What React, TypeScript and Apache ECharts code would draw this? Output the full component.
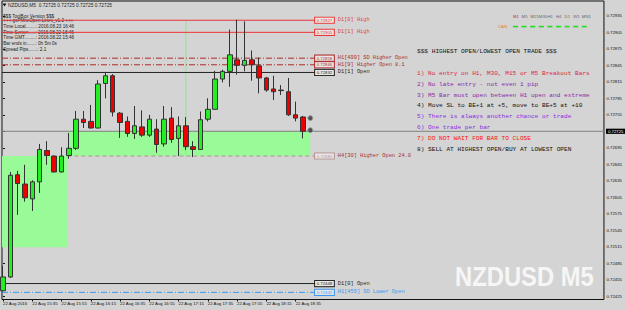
import React, { useEffect, useRef } from "react";
import * as echarts from "echarts";

// ---------- data ----------
const timeLabels = [
  "22 Aug 2016", "22 Aug 15:35", "22 Aug 15:55", "22 Aug 16:15", "22 Aug 16:35",
  "22 Aug 16:55", "22 Aug 17:15", "22 Aug 17:35", "22 Aug 17:55", "22 Aug 18:15", "22 Aug 18:35",
];
const timeLabelBars = [0, 4, 8, 12, 16, 20, 24, 28, 32, 36, 40];
const priceTicks = [
  0.72425, 0.72455, 0.72485, 0.72515, 0.72545, 0.72575, 0.72605, 0.72635, 0.72665,
  0.72695, 0.72725, 0.72755, 0.72785, 0.72815, 0.72845, 0.72875, 0.72905, 0.72935,
];

const opens = [
  0.72435, 0.72460, 0.72646, 0.72629, 0.72602, 0.72633, 0.72690, 0.72680, 0.72651, 0.72681,
  0.72694, 0.72747, 0.72743, 0.72731, 0.72812, 0.72826, 0.72758, 0.72743, 0.72721, 0.72733,
  0.72718, 0.72729, 0.72702, 0.72749, 0.72712, 0.72735, 0.72697, 0.72692, 0.72747, 0.72765,
  0.72820, 0.72834, 0.72855, 0.72845, 0.72855, 0.72844, 0.72822, 0.72802, 0.72800, 0.72797,
  0.72755, 0.72751,
];
const highs = [
  0.72480, 0.72651, 0.72653, 0.72664, 0.72636, 0.72702, 0.72707, 0.72681, 0.72696, 0.72722,
  0.72762, 0.72762, 0.72773, 0.72818, 0.72833, 0.72829, 0.72760, 0.72752, 0.72771, 0.72763,
  0.72755, 0.72747, 0.72771, 0.72769, 0.72752, 0.72751, 0.72707, 0.72761, 0.72785, 0.72835,
  0.72837, 0.72910, 0.72928, 0.72925, 0.72872, 0.72859, 0.72824, 0.72826, 0.72809, 0.72822,
  0.72779, 0.72753,
];
const lows = [
  0.72433, 0.72458, 0.72573, 0.72597, 0.72580, 0.72613, 0.72664, 0.72650, 0.72650, 0.72675,
  0.72691, 0.72731, 0.72730, 0.72730, 0.72785, 0.72752, 0.72713, 0.72715, 0.72711, 0.72715,
  0.72715, 0.72686, 0.72697, 0.72704, 0.72680, 0.72691, 0.72678, 0.72692, 0.72743, 0.72765,
  0.72814, 0.72806, 0.72828, 0.72834, 0.72817, 0.72794, 0.72797, 0.72782, 0.72791, 0.72753,
  0.72743, 0.72712,
];
const closes = [
  0.72460, 0.72645, 0.72630, 0.72604, 0.72633, 0.72692, 0.72681, 0.72651, 0.72680, 0.72694,
  0.72747, 0.72741, 0.72731, 0.72811, 0.72826, 0.72760, 0.72741, 0.72721, 0.72735, 0.72718,
  0.72747, 0.72701, 0.72747, 0.72710, 0.72735, 0.72697, 0.72692, 0.72746, 0.72765, 0.72820,
  0.72834, 0.72864, 0.72845, 0.72854, 0.72846, 0.72822, 0.72800, 0.72797, 0.72799, 0.72755,
  0.72749, 0.72725,
];
const currentPrice = 0.72725;

const levelNames = [
  "D1[0] High", "D1[1] High", "H1[499] SD Higher Open", "H1[9] Higher Open 8.1",
  "D1[1] Open", "H4[30] Higher Open 24.0", "D1[0] Open", "H1[455] SD Lower Open",
];
const levelPrices = [0.72927, 0.72905, 0.72858, 0.72846, 0.72832, 0.72680, 0.72448, 0.72432];
const levelStartBars = [null, null, null, null, null, 8.8, null, null];
const levelEndBar = 42.66;

// zones (bar range and price range)
const zoneFromBars = [null, 8.8];
const zoneToBars = [8.8, 42];
const zoneTopPrices = [0.72680, 0.72725];
const zoneBottomPrices = [0.72514, 0.72680];

const markerBar = 25;
const markerTop = 0.72927;
const markerBottom = 0.72680;

const signalBars = [42, 42];
const signalPrices = [0.72749, 0.72727];

const rulesTitle = "$$$ HIGHEST OPEN/LOWEST OPEN TRADE $$$";
const rules = [
  "1) No entry on H1, M30, M15 or M5 Breakout Bars",
  "2) No late entry - not even 1 pip",
  "3) M5 Bar must open between H1 open and extreme",
  "4) Move SL to BE+1 at +5, move to BE+5 at +10",
  "5) There is always another chance or trade",
  "6) One trade per bar",
  "7) DO NOT WAIT FOR BAR TO CLOSE",
  "8) SELL AT HIGHEST OPEN/BUY AT LOWEST OPEN",
];
const infoLines = [
  "$$$ ToolBox Version $$$",
  "+++ gsPMiteOpen Lines_v1.2 +++",
  "Time Local........: 2016.08.23 16:46",
  "Time Server......: 2016.08.22 18:46",
  "Time GMT.........: 2016.08.22 15:46",
  "Bar ends in.......: 0h 5m 0s",
  "Spread Pips.......: 2.1",
];
const headerText = "NZDUSD,M5  0.72725 0.72725 0.72725 0.72725";
const timeframes = ["M1", "M5", "M15", "M30", "H1", "H4", "D1", "W1", "MN1"];

// ---------- styles ----------
const BG = "#d4d4d4";
const X_MIN = -0.137;
const X_MAX = 82.14;
const Y_MIN = 0.72419;
const Y_MAX = 0.72962;

const levelStyles = [
  { line: "#ee3333", text: "#e04444", type: "solid" },
  { line: "#ee3333", text: "#e04444", type: "solid" },
  { line: "#b02a2a", text: "#b02a2a", type: [6, 2, 1, 2] },
  { line: "#b02a2a", text: "#b02a2a", type: [6, 2, 1, 2] },
  { line: "#222222", text: "#222222", type: "solid" },
  { line: "#b89090", text: "#a83030", type: [4, 3] },
  { line: "#222222", text: "#222222", type: "solid" },
  { line: "#3a96f0", text: "#3a96f0", type: [6, 2, 1, 2] },
];
const ruleColors = [
  "#dc1f4a", "#8a2aa8", "#8a2aa8", "#111111", "#8a2be2", "#8a2be2", "#ff1010", "#111111",
];

function buildOption() {
  const candleData = opens.map((o, i) => [i, o, closes[i], lows[i], highs[i]]);

  const levelSeries = levelNames.map((name, i) => {
    const st = levelStyles[i];
    const start = levelStartBars[i] == null ? X_MIN : (levelStartBars[i] as number);
    return {
      type: "line",
      data: [
        [start, levelPrices[i]],
        [levelEndBar, levelPrices[i]],
      ],
      symbol: "none",
      silent: true,
      z: 3,
      lineStyle: { color: st.line, width: 1, type: st.type },
      endLabel: {
        show: true,
        distance: 0,
        formatter: `{b|${levelPrices[i].toFixed(5)}}{n|${name}}`,
        rich: {
          b: {
            fontFamily: "Liberation Sans",
            fontSize: 4.3,
            color: st.line,
            backgroundColor: "#e8e8e8",
            borderColor: st.line,
            borderWidth: 1,
            padding: [0.8, 1.6, 0.4, 1.6],
          },
          n: {
            fontFamily: "Liberation Mono",
            fontSize: 5.3,
            color: st.text,
            padding: [0, 0, 0, 4],
          },
        },
      },
    };
  });

  const graphic: any[] = [];
  // header triangle + header text
  graphic.push({
    type: "polygon",
    shape: { points: [[2.5, 3.5], [6.5, 3.5], [4.5, 6.5]] },
    style: { fill: "#111" },
    silent: true,
  });
  graphic.push({
    type: "text",
    x: 8,
    y: 5,
    silent: true,
    style: { text: headerText, fill: "#222", font: '4.8px "Liberation Sans"', verticalAlign: "middle" },
  });
  infoLines.forEach((t, i) => {
    graphic.push({
      type: "text",
      x: 3.3,
      y: [16, 20.7, 26.3, 32.3, 37.7, 43.3, 49][i],
      silent: true,
      style: { text: t, fill: "#222", font: '4.6px "Liberation Sans"', verticalAlign: "middle" },
    });
  });
  // timeframe strip
  timeframes.forEach((t, i) => {
    const x = 513 + i * 8.6;
    graphic.push({
      type: "text",
      x,
      y: 16,
      silent: true,
      style: { text: t, fill: i < 1 ? "#c03030" : "#666", font: '4.3px "Liberation Sans"', verticalAlign: "middle" },
    });
    graphic.push({
      type: "rect",
      shape: { x: x, y: 25.8, width: 5, height: 1.6 },
      style: { fill: "#22dd22" },
      silent: true,
    });
  });
  graphic.push({
    type: "text",
    x: 498,
    y: 26.5,
    silent: true,
    style: { text: "CAN", fill: "#e08020", font: '4.3px "Liberation Sans"', verticalAlign: "middle" },
  });
  // rules block
  graphic.push({
    type: "text",
    x: 417,
    y: 51,
    silent: true,
    style: { text: rulesTitle, fill: "#111", font: '6.13px "Liberation Mono"', verticalAlign: "middle" },
  });
  rules.forEach((t, i) => {
    graphic.push({
      type: "text",
      x: 417,
      y: 73.2 + i * 10.9,
      silent: true,
      style: { text: t, fill: ruleColors[i], font: '6.13px "Liberation Mono"', verticalAlign: "middle" },
    });
  });
  // watermark
  graphic.push({
    type: "text",
    x: 455,
    y: 276.7,
    scaleX: 0.853,
    silent: true,
    z: 0,
    style: {
      text: "NZDUSD M5",
      fill: "#f6f6f6",
      font: 'bold 27.9px "Liberation Sans"',
      verticalAlign: "middle",
    },
  });

  return {
    animation: false,
    backgroundColor: BG,
    grid: {
      left: 1.7,
      top: 1,
      width: 602.3,
      height: 298.5,
      show: true,
      borderColor: "#111",
      borderWidth: 1,
      backgroundColor: "transparent",
    },
    xAxis: {
      type: "value",
      min: X_MIN,
      max: X_MAX,
      splitLine: { show: false },
      axisLine: { show: false },
      axisTick: {
        show: true,
        customValues: timeLabelBars,
        length: 2,
        lineStyle: { color: "#111", width: 1 },
      },
      axisLabel: {
        customValues: timeLabelBars,
        formatter: (v: number) => timeLabels[timeLabelBars.indexOf(Math.round(v))] || "",
        align: "left",
        margin: 2,
        fontSize: 4.3,
        fontFamily: "Liberation Sans",
        color: "#111",
      },
    },
    yAxis: {
      type: "value",
      position: "right",
      min: Y_MIN,
      max: Y_MAX,
      scale: true,
      splitLine: { show: false },
      axisLine: { show: false },
      axisTick: {
        show: true,
        customValues: priceTicks,
        length: 2,
        lineStyle: { color: "#111", width: 1 },
      },
      axisLabel: {
        customValues: priceTicks,
        formatter: (v: number) => v.toFixed(5),
        margin: 2.5,
        fontSize: 4.3,
        fontFamily: "Liberation Sans",
        color: "#111",
      },
    },
    graphic,
    series: [
      {
        type: "line",
        data: [
          [markerBar, markerTop],
          [markerBar, markerBottom],
        ],
        symbol: "none",
        silent: true,
        z: 1,
        lineStyle: { color: "#8ee88e", width: 1 },
        markArea: {
          silent: true,
          itemStyle: { color: "#98fb98", opacity: 1 },
          data: zoneTopPrices.map((t, i) => [
            { coord: [zoneFromBars[i] == null ? X_MIN : zoneFromBars[i], t] },
            { coord: [zoneToBars[i], zoneBottomPrices[i]] },
          ]),
        },
      },
      {
        type: "line",
        data: [
          [X_MIN, currentPrice],
          [X_MAX, currentPrice],
        ],
        symbol: "none",
        silent: true,
        z: 1,
        lineStyle: { color: "#808080", width: 1 },
        endLabel: {
          show: true,
          distance: 2,
          formatter: currentPrice.toFixed(5),
          fontFamily: "Liberation Sans",
          fontSize: 4.3,
          color: "#fff",
          backgroundColor: "#000",
          padding: [0.8, 2, 0.4, 2],
        },
      },
      ...levelSeries,
      {
        type: "candlestick",
        data: candleData,
        barWidth: 5,
        z: 4,
        silent: true,
        itemStyle: {
          color: "#22ee22",
          color0: "#ee0000",
          borderColor: "#333",
          borderColor0: "#333",
          borderWidth: 1,
        },
      },
      {
        type: "scatter",
        data: signalBars.map((b, i) => [b, signalPrices[i]]),
        symbol: "circle",
        symbolSize: 5,
        z: 5,
        silent: true,
        itemStyle: { color: "#333", borderColor: "#999", borderWidth: 1 },
      },
    ],
  };
}

export default function App() {
  const ref = useRef<HTMLDivElement>(null);
  useEffect(() => {
    const chart = echarts.init(ref.current!, null, { renderer: "svg" });
    chart.setOption(buildOption() as any);
    return () => chart.dispose();
  }, []);
  return (
    <div
      ref={ref}
      style={{ position: "fixed", left: 0, top: 0, width: 625, height: 310, background: BG }}
    />
  );
}
